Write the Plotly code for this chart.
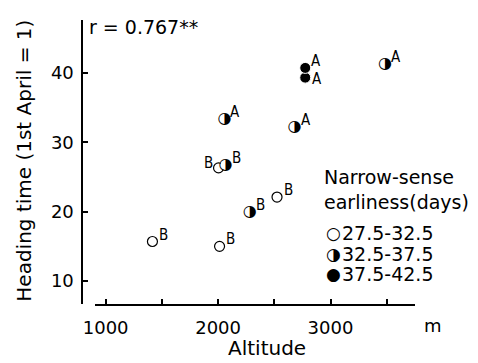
import plotly.graph_objects as go

# ---- data ----
altitude_open = [1416, 2013, 2004, 2524]
heading_open = [15.7, 15.0, 26.3, 22.1]
label_open = ["B", "B", "B", "B"]
side_open = ["ur", "ur", "l", "ur"]

altitude_half = [2065, 2056, 2281, 2680, 3485]
heading_half = [26.7, 33.4, 19.9, 32.2, 41.2]
label_half = ["B", "A", "B", "A", "A"]
side_half = ["ur", "ur", "ur", "ur", "ur"]

altitude_full = [2775, 2775]
heading_full = [39.3, 40.7]
label_full = ["A", "A"]
side_full = ["r", "ur"]

x_ticks = [1000, 1500, 2000, 2500, 3000, 3500]
x_ticktext = ["1000", "", "2000", "", "3000", ""]
y_ticks = [10, 20, 30, 40]

legend_title = "Narrow-sense<br>earliness(days)"
legend_items = [("○", "27.5-32.5"), ("◑", "32.5-37.5"), ("●", "37.5-42.5")]

W, H = 478, 363
FONT = "DejaVu Sans"
LBL_FONT = dict(family="Liberation Sans Narrow, DejaVu Sans Condensed, DejaVu Sans",
                size=15, color="black")
SHIFT = {"ur": (11, 7), "r": (12, -1), "l": (-10, 5)}

fig = go.Figure()

fig.add_trace(go.Scatter(
    x=altitude_open, y=heading_open, mode="markers",
    marker=dict(symbol="circle-open", size=10, color="black", line=dict(width=1.2, color="black")),
    cliponaxis=False, showlegend=False, hoverinfo="skip"))

# half-filled points: white disc (hides what's under) and glyph
fig.add_trace(go.Scatter(
    x=altitude_half, y=heading_half, mode="markers",
    marker=dict(symbol="circle", size=10, color="white", line=dict(width=0)),
    cliponaxis=False, showlegend=False, hoverinfo="skip"))
fig.add_trace(go.Scatter(
    x=altitude_half, y=heading_half, mode="text",
    text=["◑"] * len(altitude_half), textposition="middle center",
    textfont=dict(family=FONT, size=16, color="black"),
    cliponaxis=False, showlegend=False, hoverinfo="skip"))

fig.add_trace(go.Scatter(
    x=altitude_full, y=heading_full, mode="markers",
    marker=dict(symbol="circle", size=11, color="black", line=dict(width=1, color="white")),
    cliponaxis=False, showlegend=False, hoverinfo="skip"))

x0, x1 = 85 / W, 413 / W
y0, y1 = 1 - 304 / H, 1 - 20 / H

fig.update_layout(
    width=W, height=H, margin=dict(l=0, r=0, t=0, b=0),
    paper_bgcolor="white", plot_bgcolor="white",
    font=dict(family=FONT, size=18, color="black"),
    showlegend=False,
    xaxis=dict(domain=[x0, x1], range=[904, 3748], showline=True, linecolor="black",
               linewidth=1.5, ticks="inside", ticklen=5, tickwidth=1.5, tickcolor="black",
               tickvals=x_ticks, ticktext=x_ticktext, showgrid=False, zeroline=False,
               ticklabelstandoff=7, tickfont=dict(size=18)),
    yaxis=dict(domain=[y0, y1], range=[6.7, 47.6], anchor="free", position=72 / W,
               showline=True, linecolor="black", linewidth=1.5, ticks="inside", ticklen=5,
               tickwidth=1.5, tickcolor="black", tickvals=y_ticks, showgrid=False,
               zeroline=False, ticklabelstandoff=4, tickfont=dict(size=18)),
)

ann = []
for xs, ys, labs, sides in [(altitude_open, heading_open, label_open, side_open),
                            (altitude_half, heading_half, label_half, side_half),
                            (altitude_full, heading_full, label_full, side_full)]:
    for xv, yv, lab, sd in zip(xs, ys, labs, sides):
        dx, dy = SHIFT[sd]
        ann.append(dict(text=lab, x=xv, y=yv, xref="x", yref="y", xshift=dx, yshift=dy,
                        xanchor="center", yanchor="middle", showarrow=False,
                        font=LBL_FONT))

ann.append(dict(text="r = 0.767**", x=77 / W, y=1 - 27 / H, xref="paper", yref="paper",
                xanchor="left", yanchor="middle", showarrow=False, font=dict(size=19)))
ann.append(dict(text="Heading time (1st April = 1)", x=12 / W, y=1 - 161 / H, xref="paper",
                yref="paper", textangle=-90, xanchor="center", yanchor="middle",
                showarrow=False, font=dict(size=20)))
ann.append(dict(text="Altitude", x=262 / W, y=1 - 348 / H, xref="paper", yref="paper",
                xanchor="center", yanchor="middle", showarrow=False, font=dict(size=20)))
ann.append(dict(text="m", x=432 / W, y=1 - 325 / H, xref="paper", yref="paper",
                xanchor="center", yanchor="middle", showarrow=False, font=dict(size=18)))
ann.append(dict(text=legend_title, x=318 / W, y=1 - 189 / H, xref="paper", yref="paper",
                xanchor="left", yanchor="middle", align="left", showarrow=False,
                font=dict(size=19)))
for i, (sym, txt) in enumerate(legend_items):
    yy = 1 - (233 + 20.5 * i) / H
    ann.append(dict(text=sym, x=330 / W, y=yy, xref="paper", yref="paper",
                    xanchor="center", yanchor="middle", showarrow=False,
                    font=dict(size=17)))
    ann.append(dict(text=txt, x=336 / W, y=yy, xref="paper", yref="paper",
                    xanchor="left", yanchor="middle", showarrow=False, font=dict(size=19)))
fig.update_layout(annotations=ann)

fig.write_html("out.html")
